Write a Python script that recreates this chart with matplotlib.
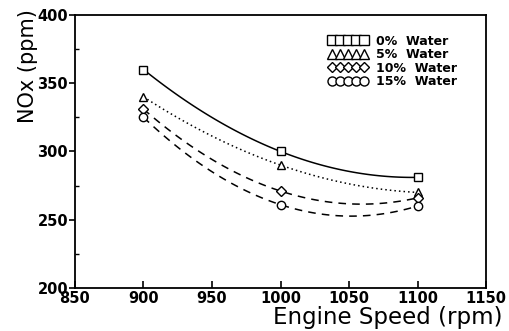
import matplotlib
matplotlib.use("Agg")
import matplotlib.pyplot as plt
from matplotlib.lines import Line2D
import numpy as np

speed = [900, 1000, 1100]  # rpm
nox_0 = [360, 300, 281]
nox_5 = [340, 290, 270]
nox_10 = [331, 271, 266]
nox_15 = [325, 261, 260]

labels = ["0%  Water", "5%  Water", "10%  Water", "15%  Water"]
markers = ["s", "^", "D", "o"]
styles = ["-", (0, (1, 2)), (0, (5, 4)), (0, (5, 4))]
series = [nox_0, nox_5, nox_10, nox_15]

fig = plt.figure(figsize=(5.1, 3.31), dpi=100)
ax = fig.add_axes([0.147, 0.130, 0.806, 0.825])

for vals, mk, ls in zip(series, markers, styles):
  # smooth curve through the three measured points
  coef = np.polyfit(speed, vals, 2)
  xs = np.linspace(speed[0], speed[-1], 100)
  ax.plot(xs, np.polyval(coef, xs), color="black", lw=1.1, linestyle=ls)
  ax.plot(speed, vals, linestyle="none", marker=mk, ms=6 if mk != "D" else 5,
          mfc="white", mec="black", mew=1.0, zorder=3)

ax.set_xlim(850, 1150)
ax.set_ylim(200, 400)
ax.set_xticks([850, 900, 950, 1000, 1050, 1100, 1150])
ax.set_yticks([200, 250, 300, 350, 400])
ax.set_yticks([225, 275, 325, 375], minor=True)
ax.tick_params(axis="x", direction="in", length=5, width=1.2, labelsize=10.5, pad=2)
ax.tick_params(axis="y", direction="out", length=4, width=1.2, labelsize=10.5, pad=1)
ax.tick_params(axis="y", which="minor", direction="in", length=3, width=1.0)
for lab in ax.get_xticklabels() + ax.get_yticklabels():
  lab.set_fontweight("bold")
for sp in ax.spines.values():
  sp.set_linewidth(1.3)

handles = [Line2D([], [], linestyle="none", marker=mk, ms=6.5 if mk != "D" else 5.5,
                  mfc="white", mec="black", mew=1.0) for mk in markers]
leg = ax.legend(handles, labels, loc="upper right", numpoints=5, frameon=False,
                handlelength=3.2, handletextpad=0.6, labelspacing=0.05,
                borderaxespad=0.3, bbox_to_anchor=(0.95, 0.96),
                prop={"size": 9, "weight": "bold"})

fig.text(0.055, 0.80, "NOx (ppm)", rotation=90, ha="center", va="center", fontsize=15)
fig.text(0.76, 0.04, "Engine Speed (rpm)", ha="center", va="center", fontsize=16.5)

fig.savefig("out.png", dpi=100)
